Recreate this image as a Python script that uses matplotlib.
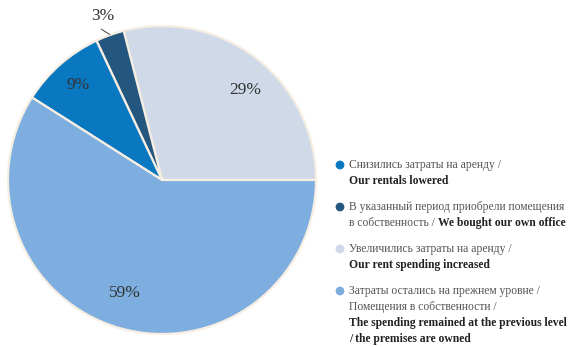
import matplotlib.pyplot as plt
import numpy as np

plt.rcParams["font.family"] = ["Liberation Serif", "DejaVu Serif"]

# slices drawn counter-clockwise from 3 o'clock
shares = [29, 3, 9, 59]
colors = ["#cfd9e8", "#24577f", "#0a77c1", "#7daedf"]
pct_labels = ["29%", "3%", "9%", "59%"]
label_dist = [0.80, 1.13, 0.82, 0.77]
label_turn = [-5, 0, 0, -2]  # degrees, nudges label along the arc

# legend order (top to bottom) -> index into the slice lists
legend_order = [2, 1, 0, 3]
legend_ru = [
    ["Снизились затраты на аренду /"],
    ["В указанный период приобрели помещения", "в собственность / "],
    ["Увеличились затраты на аренду /"],
    ["Затраты остались на прежнем уровне /", "Помещения в собственности /"],
]
legend_en = [
    ["Our rentals lowered"],
    ["We bought our own office"],
    ["Our rent spending increased"],
    ["The spending remained at the previous level", "/ the premises are owned"],
]
# when True the first English line continues the last Russian line
legend_inline = [False, True, False, False]

W, H = 581, 347
fig = plt.figure(figsize=(W / 100, H / 100), dpi=100)
ax = fig.add_axes([0, 0, 1, 1])

cx, cy, r = 162, 180, 154
wedges, _ = ax.pie(
    shares,
    colors=colors,
    startangle=0,
    counterclock=False,
    center=(cx, cy),
    radius=r,
    wedgeprops=dict(edgecolor="#f6eee2", linewidth=1.6),
    frame=True,
)
ax.set_xlim(0, W)
ax.set_ylim(H, 0)
ax.axis("off")

for w, lab, d, turn in zip(wedges, pct_labels, label_dist, label_turn):
    mid = np.deg2rad((w.theta1 + w.theta2) / 2 - turn)
    x = cx + d * r * np.cos(mid)
    y = cy + d * r * np.sin(mid)
    ax.text(x, y, lab, ha="center", va="center", fontsize=12.5, color="#333333")

# leader tick for the small slice
w = wedges[1]
mid = np.deg2rad((w.theta1 + w.theta2) / 2)
x0, y0 = cx + 1.005 * r * np.cos(mid), cy + 1.005 * r * np.sin(mid)
ax.plot([x0 - 8, x0], [y0 - 5, y0], color="#555555", lw=0.8)

# legend
renderer = fig.canvas.get_renderer()
lx, tx = 340, 349
line_h = 16
fs = 8.4
y = 165
for k, idx in enumerate(legend_order):
    ax.scatter(lx, y, s=40, color=colors[idx], edgecolor="none", zorder=3)
    ru = legend_ru[k]
    en = legend_en[k]
    for i, line in enumerate(ru):
        t = ax.text(tx, y + i * line_h, line, ha="left", va="center",
                    fontsize=fs, color="#555555")
    yy = y + (len(ru) - 1) * line_h
    en_lines = list(en)
    if legend_inline[k]:
        bb = t.get_window_extent(renderer=renderer)
        x_end = ax.transData.inverted().transform((bb.x1, bb.y0))[0]
        ax.text(x_end, yy, en_lines.pop(0), ha="left", va="center",
                fontsize=fs, fontweight="bold", color="#222222")
    for line in en_lines:
        yy += line_h
        ax.text(tx, yy, line, ha="left", va="center", fontsize=fs,
                fontweight="bold", color="#222222")
    y = yy + 26

fig.savefig("out.png", dpi=100)
